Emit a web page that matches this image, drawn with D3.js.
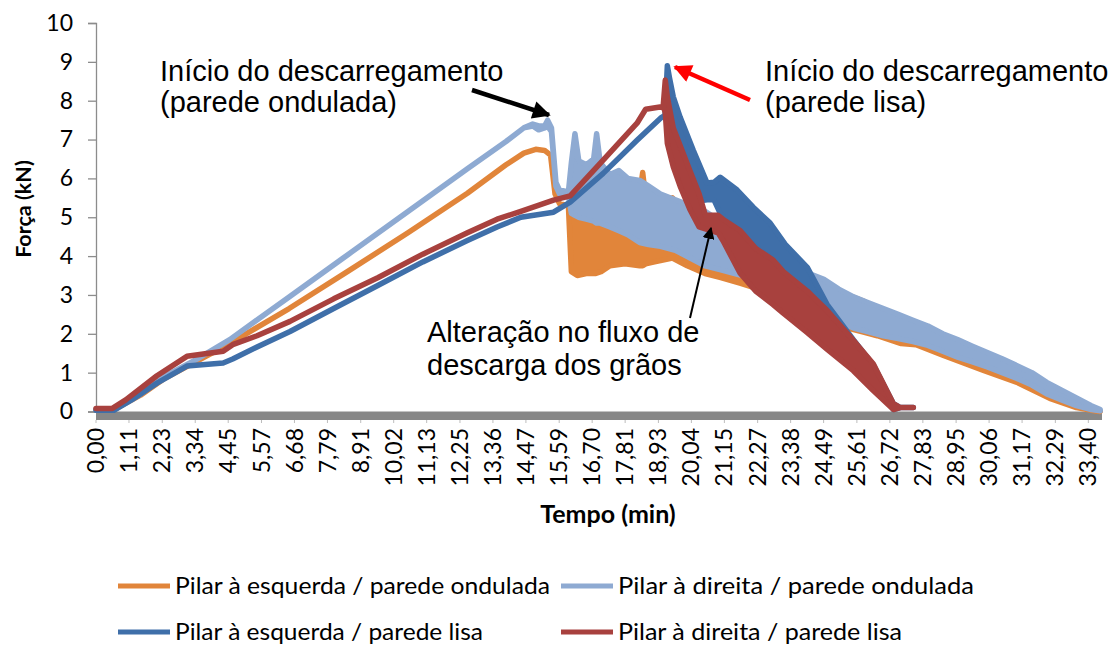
<!DOCTYPE html>
<html>
<head>
<meta charset="utf-8">
<script src="https://cdn.jsdelivr.net/npm/d3@7"></script>
<style>
  body { margin: 0; background: #ffffff; }
  svg { display: block; }
</style>
</head>
<body>
<svg id="chart" width="1114" height="646"></svg>
<script>
// Força nos pilares ao longo do tempo: parede ondulada x parede lisa.
// Trechos ruidosos são guardados como envoltória (mínimo / máximo) em cada instante.

const xTickLabels = ["0,00","1,11","2,23","3,34","4,45","5,57","6,68","7,79","8,91","10,02",
  "11,13","12,25","13,36","14,47","15,59","16,70","17,81","18,93","20,04","21,15","22,27",
  "23,38","24,49","25,61","26,72","27,83","28,95","30,06","31,17","32,29","33,40"];
const yTicks = [0, 1, 2, 3, 4, 5, 6, 7, 8, 9, 10];

const seriesNames = [
  "Pilar à esquerda / parede ondulada",
  "Pilar à direita / parede ondulada",
  "Pilar à esquerda / parede lisa",
  "Pilar à direita / parede lisa"
];
const seriesColors = ["#e1853a", "#8eaad2", "#3f6fa9", "#a8413e"];

// Pilar à esquerda / parede ondulada
const orangeTime = [0, 0.6, 1.5, 2.3, 3.4, 4.5, 6.5, 8.5, 10.5, 12.5, 13.8, 14.4, 14.8, 15.1, 15.3, 15.45, 15.6, 15.9,
  16.0, 16.2, 16.5, 16.8, 17.0, 17.3, 17.8, 18.3, 18.4, 18.5, 18.8, 19.4, 19.9, 20.5, 21.0, 21.7, 22.1, 22.8, 23.3,
  23.9, 24.5, 25.05, 25.3, 25.8, 26.3, 27.1, 27.6, 28.5, 29.87, 31.0, 32.1, 33.0, 33.6, 33.8];
const orangeLow = [0.05, 0.05, 0.42, 0.85, 1.30, 1.75, 2.65, 3.62, 4.60, 5.62, 6.35, 6.65, 6.75, 6.72, 6.60, 5.60, 5.35, 5.30,
  3.60, 3.50, 3.55, 3.55, 3.60, 3.75, 3.80, 3.75, 3.75, 3.80, 3.85, 3.95, 3.75, 3.55, 3.45, 3.30, 3.20, 2.90, 2.80,
  2.70, 2.45, 2.27, 2.15, 2.05, 1.95, 1.75, 1.72, 1.45, 1.06, 0.75, 0.34, 0.10, 0.02, 0.00];
const orangeHigh = [0.05, 0.05, 0.42, 0.85, 1.30, 1.75, 2.65, 3.62, 4.60, 5.62, 6.35, 6.65, 6.75, 6.72, 6.60, 5.60, 5.35, 5.30,
  5.10, 5.60, 5.90, 5.90, 5.80, 5.70, 5.60, 5.60, 6.15, 5.50, 5.40, 5.50, 5.10, 4.90, 4.70, 4.45, 4.20, 3.80, 3.60,
  3.40, 3.20, 3.00, 3.00, 2.85, 2.65, 2.35, 2.20, 1.90, 1.40, 1.10, 0.65, 0.30, 0.08, 0.00];

// Pilar à direita / parede ondulada
const lightTime = [0, 0.6, 1.5, 2.3, 3.4, 4.5, 6.5, 8.5, 10.5, 12.5, 13.8, 14.4, 14.7, 14.9, 15.1, 15.2, 15.33, 15.48, 15.6, 15.9,
  16.0, 16.12, 16.25, 16.5, 16.75, 16.85, 16.97, 17.3, 17.6, 17.9, 18.3, 18.6, 19.0, 19.5, 20.0, 20.5, 21.0, 21.5, 22.0,
  22.5, 23.0, 23.5, 24.0, 24.5, 25.0, 25.5, 26.0, 26.5, 27.0, 27.5, 28.0, 28.5, 29.0, 29.5, 30.0, 30.5, 31.0, 31.5,
  32.0, 32.5, 33.0, 33.5, 33.8];
const lightLow = [0.05, 0.05, 0.45, 0.90, 1.35, 1.85, 2.95, 4.05, 5.15, 6.25, 6.95, 7.30, 7.35, 7.25, 7.30, 7.35, 7.20, 5.80, 5.60, 5.55,
  5.10, 5.05, 5.00, 4.95, 4.90, 4.85, 4.85, 4.75, 4.65, 4.55, 4.35, 4.30, 4.25, 4.15, 3.95, 3.75, 3.65, 3.55, 3.45,
  3.30, 3.15, 2.98, 2.80, 2.60, 2.30, 2.15, 2.05, 1.95, 1.88, 1.80, 1.70, 1.55, 1.40, 1.28, 1.15, 1.00, 0.85, 0.68,
  0.45, 0.30, 0.15, 0.05, 0.02];
const lightHigh = [0.05, 0.05, 0.45, 0.90, 1.35, 1.85, 2.95, 4.05, 5.15, 6.25, 6.95, 7.30, 7.40, 7.35, 7.35, 7.50, 7.30, 5.90, 5.70, 5.65,
  6.40, 7.15, 6.45, 6.35, 6.50, 7.15, 6.40, 6.10, 6.20, 6.00, 5.95, 5.80, 5.60, 5.45, 5.30, 5.15, 4.90, 4.70, 4.45,
  4.20, 3.95, 3.75, 3.55, 3.40, 3.15, 2.95, 2.80, 2.65, 2.50, 2.35, 2.20, 2.00, 1.85, 1.68, 1.52, 1.36, 1.18, 1.00,
  0.75, 0.55, 0.35, 0.15, 0.05];

// Pilar à esquerda / parede lisa
const blueTime = [0, 0.6, 1.2, 2.05, 3.06, 4.28, 4.6, 5.42, 6.53, 8.0, 9.5, 11.0, 12.5, 13.5, 14.3, 15.4, 15.96, 17.07, 18.21,
  19.0, 19.15, 19.23, 19.3, 19.43, 19.66, 20.1, 20.57, 20.8, 21.01, 21.58, 22.12, 22.69, 23.2, 23.94, 24.61, 25.49,
  26.16, 26.84, 27.07, 27.51];
const blueLow = [0.03, 0.03, 0.30, 0.73, 1.17, 1.25, 1.35, 1.66, 2.06, 2.65, 3.25, 3.85, 4.40, 4.75, 5.00, 5.13, 5.39, 6.13, 6.98,
  7.55, 7.62, 7.60, 7.00, 6.60, 6.10, 5.40, 5.45, 5.45, 5.10, 4.60, 4.30, 3.95, 3.50, 3.00, 2.45, 1.65,
  0.90, 0.05, 0.10, 0.10];
const blueHigh = [0.03, 0.03, 0.30, 0.73, 1.17, 1.25, 1.35, 1.66, 2.06, 2.65, 3.25, 3.85, 4.40, 4.75, 5.00, 5.13, 5.39, 6.13, 6.98,
  7.55, 7.62, 8.90, 8.60, 8.10, 7.58, 6.73, 5.88, 5.90, 6.03, 5.70, 5.26, 4.85, 4.30, 3.71, 2.75, 1.85,
  1.20, 0.20, 0.10, 0.10];

// Pilar à direita / parede lisa
const redTime = [0, 0.55, 1.0, 2.05, 3.06, 4.28, 4.6, 5.42, 6.53, 8.0, 9.5, 11.0, 12.5, 13.5, 14.3, 15.4, 15.96, 17.07, 18.21,
  18.5, 19.09, 19.16, 19.23, 19.43, 19.66, 19.99, 20.3, 20.51, 20.94, 21.1, 21.68, 22.2, 22.79, 23.13, 23.94, 24.14,
  24.61, 25.49, 26.16, 26.84, 27.07, 27.51];
const redLow = [0.08, 0.08, 0.30, 0.92, 1.42, 1.55, 1.72, 1.95, 2.32, 2.90, 3.45, 4.05, 4.60, 4.95, 5.15, 5.44, 5.55, 6.47, 7.42,
  7.78, 7.85, 7.70, 6.90, 6.30, 5.80, 5.20, 4.75, 4.70, 4.60, 4.40, 3.56, 3.10, 2.75, 2.53, 2.03, 1.90,
  1.60, 1.05, 0.54, 0.05, 0.10, 0.10];
const redHigh = [0.08, 0.08, 0.30, 0.92, 1.42, 1.55, 1.72, 1.95, 2.32, 2.90, 3.45, 4.05, 4.60, 4.95, 5.15, 5.44, 5.55, 6.47, 7.42,
  7.78, 7.85, 8.53, 8.10, 7.30, 6.85, 6.20, 5.60, 5.05, 5.05, 4.95, 4.66, 4.20, 3.90, 3.60, 3.10, 2.95,
  2.60, 1.83, 1.23, 0.20, 0.10, 0.10];

const seriesData = [
  [orangeTime, orangeLow, orangeHigh],
  [lightTime, lightLow, lightHigh],
  [blueTime, blueLow, blueHigh],
  [redTime, redLow, redHigh]
];

const svg = d3.select("#chart");
const plot = { left: 96, right: 1102, top: 23, bottom: 411.5 };

const x = d3.scaleLinear().domain([0, 33.86]).range([plot.left, plot.right]);
const y = d3.scaleLinear().domain([0, 10]).range([plot.bottom, plot.top]);

const tickFont = "Lato, 'Open Sans', sans-serif";

// Vertical axis
const yAxis = d3.axisLeft(y).tickValues(yTicks).tickSize(8).tickPadding(15).tickFormat(d3.format("d"));
const gy = svg.append("g").attr("transform", `translate(${plot.left},0)`).call(yAxis);
gy.select(".domain").attr("stroke", "#8c8c8c").attr("stroke-width", 1.3);
gy.selectAll(".tick line").attr("stroke", "#8c8c8c").attr("stroke-width", 1.3);
gy.selectAll(".tick text").attr("font-family", tickFont).attr("font-size", 23).attr("fill", "#000");

// Horizontal axis: the dense category ticks form a grey band under the plot
svg.append("rect")
  .attr("x", plot.left).attr("y", plot.bottom)
  .attr("width", plot.right - plot.left).attr("height", 8.5)
  .attr("fill", "#878787");

const xTickValues = xTickLabels.map(s => +s.replace(",", "."));
const gx = svg.append("g").attr("transform", `translate(0,${plot.bottom + 8.5})`);
gx.selectAll("line").data(xTickValues).join("line")
  .attr("x1", d => x(d)).attr("x2", d => x(d))
  .attr("y1", 0).attr("y2", 3)
  .attr("stroke", "#bdbdbd").attr("stroke-width", 1);
gx.selectAll("text").data(xTickLabels).join("text")
  .attr("transform", (d, i) => `translate(${x(xTickValues[i])},8) rotate(-90)`)
  .attr("text-anchor", "end")
  .attr("dy", "0.35em")
  .attr("font-family", tickFont).attr("font-size", 23).attr("fill", "#000")
  .text(d => d);

// Axis titles
svg.append("text")
  .attr("transform", "translate(31,209) rotate(-90)")
  .attr("text-anchor", "middle")
  .attr("font-family", tickFont).attr("font-weight", "bold").attr("font-size", 21.5)
  .text("Força (kN)");
svg.append("text")
  .attr("x", 608).attr("y", 523)
  .attr("text-anchor", "middle")
  .attr("font-family", tickFont).attr("font-weight", "bold").attr("font-size", 25)
  .text("Tempo (min)");

// Series: band between min and max, outlined with the line width
const area = d3.area()
  .x(d => x(d.t))
  .y0(d => y(d.lo))
  .y1(d => y(d.hi));

seriesData.forEach(([time, lo, hi], k) => {
  const pts = time.map((t, i) => ({ t, lo: lo[i], hi: hi[i] }));
  svg.append("path")
    .datum(pts)
    .attr("d", area)
    .attr("fill", seriesColors[k])
    .attr("stroke", seriesColors[k])
    .attr("stroke-width", 5.5)
    .attr("stroke-linejoin", "round")
    .attr("stroke-linecap", "round");
});

// Annotations
const defs = svg.append("defs");
function marker(id, color, w, h) {
  defs.append("marker")
    .attr("id", id).attr("viewBox", "0 0 10 10")
    .attr("refX", 9).attr("refY", 5)
    .attr("markerUnits", "userSpaceOnUse")
    .attr("markerWidth", w).attr("markerHeight", h)
    .attr("orient", "auto")
    .append("path").attr("d", "M0,0 L10,5 L0,10 Z").attr("fill", color);
}
marker("headBlack", "#000", 20, 18);
marker("headRed", "#ff0000", 20, 18);
marker("headThin", "#000", 12, 12);

const noteFont = "'Liberation Sans', Arial, sans-serif";
const notes = [
  { x: 160, y: 81, text: "Início do descarregamento" },
  { x: 160, y: 112, text: "(parede ondulada)" },
  { x: 765, y: 81, text: "Início do descarregamento" },
  { x: 765, y: 112, text: "(parede lisa)" },
  { x: 427, y: 342, text: "Alteração no fluxo de" },
  { x: 427, y: 375, text: "descarga dos grãos" }
];
svg.selectAll("text.note").data(notes).join("text")
  .attr("class", "note")
  .attr("x", d => d.x).attr("y", d => d.y)
  .attr("font-family", noteFont).attr("font-size", 29).attr("fill", "#000")
  .text(d => d.text);

svg.append("line").attr("x1", 472).attr("y1", 90).attr("x2", 549).attr("y2", 115)
  .attr("stroke", "#000").attr("stroke-width", 4.5).attr("marker-end", "url(#headBlack)");
svg.append("line").attr("x1", 750).attr("y1", 100).attr("x2", 675).attr("y2", 67)
  .attr("stroke", "#ff0000").attr("stroke-width", 4.5).attr("marker-end", "url(#headRed)");
svg.append("line").attr("x1", 690).attr("y1", 318).attr("x2", 711).attr("y2", 228)
  .attr("stroke", "#000").attr("stroke-width", 2).attr("marker-end", "url(#headThin)");

// Legend (two columns)
const legendItems = [
  { col: 0, row: 0, k: 0, width: 375 },
  { col: 1, row: 0, k: 1, width: 356 },
  { col: 0, row: 1, k: 2, width: 308 },
  { col: 1, row: 1, k: 3, width: 284 }
];
const legendCols = [118, 561];
const legendRows = [586, 632];
const lg = svg.append("g");
legendItems.forEach(it => {
  const lx = legendCols[it.col], ly = legendRows[it.row];
  lg.append("line").attr("x1", lx).attr("x2", lx + 52).attr("y1", ly).attr("y2", ly)
    .attr("stroke", seriesColors[it.k]).attr("stroke-width", 5);
  lg.append("text").attr("x", lx + 57).attr("y", ly + 8)
    .attr("font-family", tickFont).attr("font-size", 23)
    .attr("textLength", it.width).attr("lengthAdjust", "spacingAndGlyphs")
    .text(seriesNames[it.k]);
});
</script>
</body>
</html>
